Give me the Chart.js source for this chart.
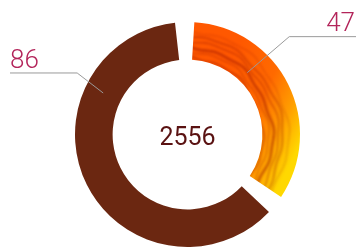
<!DOCTYPE html>
<html><head><meta charset="utf-8">
<script src="https://cdn.jsdelivr.net/npm/chart.js@4/dist/chart.umd.min.js"></script>
<style>html,body{margin:0;padding:0;background:#fff;overflow:hidden}</style>
</head><body>
<canvas id="c" width="356" height="248"></canvas>
<script>
// ---- data ----
const categories = ['Part A', 'Part B'];
const values = [47, 86];
const valueLabels = ['47', '86'];
const centerText = '2556';

// ---- style ----
const brown = '#6B2711';
const labelColor = '#B3245A';
const lineColor = '#9A9A9A';
const centerColor = '#5A1212';
// label leader geometry (fraction along slice, anchor radius, elbow offset, side)
const labelStyle = [
  {frac: 0.346, r: 86, dx: 42, dy: -36, side: 1},
  {frac: 0.726, r: 94, dx: -26, dy: -20, side: -1}
];

let texCache = null;
function texture(chart) {
  const area = chart.chartArea;
  if (!area) return '#FF7A00';
  const key = chart.width + 'x' + chart.height + ':' + area.left + ':' + area.top;
  if (texCache && texCache.key === key) return texCache.pat;
  const cx = (area.left + area.right) / 2, cy = (area.top + area.bottom) / 2;
  const r = 112;
  const cv = document.createElement('canvas');
  cv.width = chart.width; cv.height = chart.height;
  const g = cv.getContext('2d');
  const lg = g.createLinearGradient(cx + r * 0.2, cy - r * 0.3, cx + r, cy + r * 0.1);
  lg.addColorStop(0, '#FF5800');
  lg.addColorStop(0.45, '#FF6A00');
  lg.addColorStop(0.75, '#FF9E00');
  lg.addColorStop(1, '#FFD800');
  g.fillStyle = lg;
  g.fillRect(0, 0, cv.width, cv.height);
  // darker wood-like streaks (deterministic wavy arcs)
  const streaks = [[0.72, 2.2, 0.35, 1.0], [0.77, 1.4, 0.3, 2.0], [0.81, 2.8, 0.45, 1.5], [0.86, 1.6, 0.35, 2.5], [0.9, 2.2, 0.3, 3.0], [0.95, 1.2, 0.22, 1.7]];
  g.filter = 'blur(0.8px)';
  streaks.forEach(([rr, w, al, ph]) => {
    g.strokeStyle = 'rgba(150,15,0,' + al + ')';
    g.lineWidth = w;
    g.beginPath();
    for (let t = -Math.PI / 2; t <= Math.PI / 2; t += 0.02) {
      const rad = r * rr + 1.4 * Math.sin(t * 7 + ph) + 0.8 * Math.sin(t * 17 + ph * 2);
      const x = cx - 6 + Math.cos(t) * rad, y = cy + 2 + Math.sin(t) * rad;
      if (t === -Math.PI / 2) g.moveTo(x, y); else g.lineTo(x, y);
    }
    g.stroke();
  });
  g.filter = 'none';
  const pat = chart.ctx.createPattern(cv, 'no-repeat');
  texCache = {key, pat};
  return pat;
}

const labelPlugin = {
  id: 'leaders',
  afterDatasetsDraw(chart) {
    const meta = chart.getDatasetMeta(0);
    const ctx = chart.ctx;
    ctx.save();
    meta.data.forEach((arc, i) => {
      const L = labelStyle[i];
      const a = arc.startAngle + L.frac * (arc.endAngle - arc.startAngle);
      const ax = arc.x + Math.cos(a) * L.r, ay = arc.y + Math.sin(a) * L.r;
      const ex = ax + L.dx, ey = ay + L.dy;
      const endX = L.side > 0 ? chart.width : 10;
      ctx.strokeStyle = lineColor;
      ctx.lineWidth = 1;
      ctx.beginPath();
      ctx.moveTo(ax, ay); ctx.lineTo(ex, ey); ctx.lineTo(endX, ey);
      ctx.stroke();
      ctx.fillStyle = labelColor;
      ctx.font = '300 26px Roboto, "Open Sans", sans-serif';
      ctx.textBaseline = 'alphabetic';
      if (L.side > 0) { ctx.textAlign = 'right'; ctx.fillText(valueLabels[i], chart.width - 1, ey - 6); }
      else { ctx.textAlign = 'left'; ctx.fillText(valueLabels[i], 10, ey - 5); }
    });
    const a0 = meta.data[0];
    ctx.fillStyle = centerColor;
    ctx.font = '25px Roboto, sans-serif';
    ctx.textAlign = 'center';
    ctx.textBaseline = 'middle';
    ctx.fillText(centerText, a0.x, a0.y + 4);
    ctx.restore();
  }
};

new Chart(document.getElementById('c'), {
  type: 'doughnut',
  data: {
    labels: categories,
    datasets: [{
      data: values,
      backgroundColor: (ctx) => ctx.dataIndex === 0 ? texture(ctx.chart) : brown,
      borderWidth: 0,
      spacing: 10,
      radius: 107.5,
      cutout: '65%'
    }]
  },
  options: {
    responsive: false,
    animation: false,
    layout: {padding: {left: 75, right: 56, top: 22, bottom: 1}},
    plugins: {legend: {display: false}, tooltip: {enabled: false}}
  },
  plugins: [labelPlugin]
});
</script>
</body></html>
